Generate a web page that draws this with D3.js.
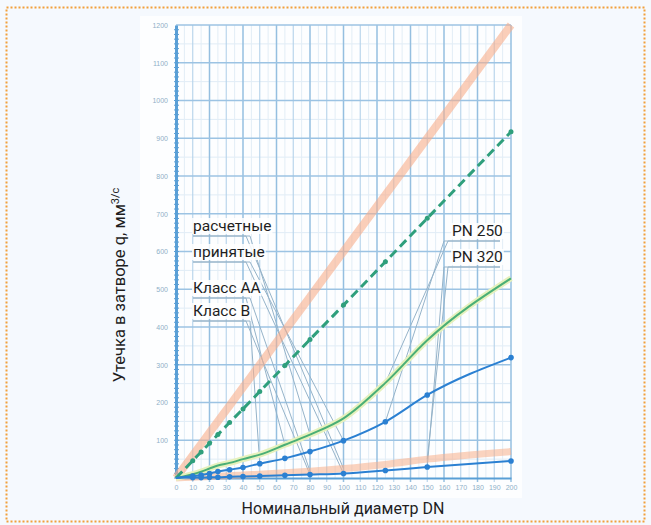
<!DOCTYPE html>
<html>
<head>
<meta charset="utf-8">
<script src="https://cdn.jsdelivr.net/npm/d3@7"></script>
<style>
  body { margin: 0; background: #f5f9fe; }
  svg { display: block; }
</style>
</head>
<body>
<svg id="chart" width="651" height="525"></svg>
<script>
// DN values (x) and leakage values (y)
var dn = [0, 10, 15, 20, 25, 32, 40, 50, 65, 80, 100, 125, 150, 200];
var orangeHigh = [0, 60, 90, 120, 150, 192, 240, 300, 390, 480, 600, 750, 900, 1200];
var greenDashed = [0, 46, 69, 92, 115, 147, 183, 229, 298, 367, 458, 573, 688, 917];
var greenSolid = [0, 10, 17, 25, 33, 40, 50, 62, 88, 115, 158, 252, 365, 529];
var blueCurve = [0, 5, 8, 12, 17, 22, 28, 38, 52, 70, 99, 149, 220, 319];
var orangeLow = [0, 2, 3, 4, 5, 6, 8, 10, 14, 18, 25, 36, 50, 70];
var blueLow = [0, 1, 1, 2, 2, 3, 4, 5, 7, 9, 12, 20, 29, 45];

var yTicks = d3.range(0, 1201, 100);
var xTicks = d3.range(0, 201, 10);

var leftLabels = ["расчетные", "принятые", "Класс АА", "Класс В"];
var rightLabels = ["PN 250", "PN 320"];
// leader line targets: [series, DN]
var leftTargets = [
	[["orangeLow", 100], ["greenSolid", 80]],
	[["blueLow", 100], ["blueCurve", 100]],
	[["greenSolid", 65], ["orangeLow", 80]],
	[["blueLow", 80], ["blueCurve", 50]]
];
var rightTargets = [
	[["greenSolid", 125], ["blueCurve", 125]],
	[["orangeLow", 150], ["blueLow", 150]]
];

var seriesMap = {orangeHigh: orangeHigh, greenDashed: greenDashed, greenSolid: greenSolid,
				 blueCurve: blueCurve, orangeLow: orangeLow, blueLow: blueLow};

var svg = d3.select("#chart");

var x = d3.scaleLinear().domain([0, 200]).range([176, 511]);
var y = d3.scaleLinear().domain([0, 1200]).range([478, 25]);

// dotted frame
svg.append("rect")
	.attr("x", 6.5).attr("y", 7.5)
	.attr("width", 638).attr("height", 514)
	.attr("fill", "none")
	.attr("stroke", "#f2a03a")
	.attr("stroke-width", 2)
	.attr("stroke-dasharray", "2,2");

// plot paper
svg.append("rect")
	.attr("x", 140).attr("y", 16)
	.attr("width", 382).attr("height", 482)
	.attr("fill", "#fdfeff");

var grid = svg.append("g");

// minor horizontal lines
grid.selectAll(".hmin")
	.data(d3.range(50, 1200, 100))
	.enter().append("line")
	.attr("x1", x(0)).attr("x2", x(200))
	.attr("y1", function(d) { return y(d); })
	.attr("y2", function(d) { return y(d); })
	.attr("stroke", "#e0ecf6").attr("stroke-width", 1);

// vertical lines
grid.selectAll(".vmin")
	.data(d3.range(5, 200, 10))
	.enter().append("line")
	.attr("x1", function(d) { return x(d); })
	.attr("x2", function(d) { return x(d); })
	.attr("y1", y(1200)).attr("y2", y(0))
	.attr("stroke", "#e2edf6").attr("stroke-width", 1);

grid.selectAll(".vmaj")
	.data(xTicks.slice(1))
	.enter().append("line")
	.attr("x1", function(d) { return x(d); })
	.attr("x2", function(d) { return x(d); })
	.attr("y1", y(1200)).attr("y2", y(0) + 4)
	.attr("stroke", function(d, i) { return i % 2 ? "#95bfe0" : "#b4d2ea"; })
	.attr("stroke-width", function(d, i) { return i % 2 ? 1.5 : 1.1; });

grid.selectAll(".hmaj")
	.data(yTicks.slice(1))
	.enter().append("line")
	.attr("x1", x(0)).attr("x2", x(200))
	.attr("y1", function(d) { return y(d); })
	.attr("y2", function(d) { return y(d); })
	.attr("stroke", "#9cc3e3").attr("stroke-width", 1.4);

// axes
var yAxis = d3.axisLeft(y).tickValues(yTicks).tickSize(0).tickPadding(8);
var yG = svg.append("g")
	.attr("transform", "translate(" + x(0) + ",0)")
	.call(yAxis);
yG.select(".domain").attr("stroke", "#5a9fd6").attr("stroke-width", 3);
yG.selectAll("text")
	.style("font-family", "Liberation Sans, Arial, sans-serif")
	.style("font-size", "7px")
	.style("fill", "#8fb0c8")
	.text(function(d) { return d === 0 ? "" : d; });

// small ticks on y axis
svg.append("g").selectAll("line")
	.data(d3.range(0, 1200, 12.5))
	.enter().append("line")
	.attr("x1", x(0) - 2).attr("x2", x(0) + 3)
	.attr("y1", function(d) { return y(d); })
	.attr("y2", function(d) { return y(d); })
	.attr("stroke", "#5a9fd6").attr("stroke-width", 1);

var xAxis = d3.axisBottom(x).tickValues(xTicks).tickSize(0).tickPadding(7);
var xG = svg.append("g")
	.attr("transform", "translate(0," + y(0) + ")")
	.call(xAxis);
xG.select(".domain").attr("stroke", "#5a9fd6").attr("stroke-width", 2);
xG.selectAll("text")
	.style("font-family", "Liberation Sans, Arial, sans-serif")
	.style("font-size", "7px")
	.style("fill", "#8fb0c8");

// leader lines + labels
var labelFont = "Roboto, 'Liberation Sans', Arial, sans-serif";
var leftY = [231, 257, 293, 316];
var rightY = [236, 262];

function pt(t) {
	var arr = seriesMap[t[0]];
	var i = dn.indexOf(t[1]);
	return [x(t[1]), y(arr[i])];
}

var leaders = svg.append("g");
leftLabels.forEach(function(lab, k) {
	var by = leftY[k] + 5;
	leftTargets[k].forEach(function(t, j) {
		var p = pt(t);
		leaders.append("polyline")
			.attr("points", [[193, by], [246 + j * 4, by], p].join(" "))
			.attr("fill", "none")
			.attr("stroke", "#95b3c9")
			.attr("stroke-width", 1);
	});
});
rightLabels.forEach(function(lab, k) {
	var by = rightY[k] + 5;
	rightTargets[k].forEach(function(t, j) {
		var p = pt(t);
		leaders.append("polyline")
			.attr("points", [[500, by], [448 - j * 4, by], p].join(" "))
			.attr("fill", "none")
			.attr("stroke", "#95b3c9")
			.attr("stroke-width", 1);
	});
});

// series lines
var line = d3.line()
	.x(function(d, i) { return x(dn[i]); })
	.y(function(d) { return y(d); })
	.curve(d3.curveMonotoneX);

svg.append("path").datum(orangeHigh)
	.attr("d", line).attr("fill", "none")
	.attr("stroke", "#f8ae8a").attr("stroke-opacity", 0.6)
	.attr("stroke-width", 8);

svg.append("path").datum(orangeLow)
	.attr("d", line).attr("fill", "none")
	.attr("stroke", "#f8ae8a").attr("stroke-opacity", 0.55)
	.attr("stroke-width", 7);

svg.append("path").datum(greenSolid)
	.attr("d", line).attr("fill", "none")
	.attr("stroke", "#e6f1bd").attr("stroke-width", 6);
svg.append("path").datum(greenSolid)
	.attr("d", line).attr("fill", "none")
	.attr("stroke", "#4aaf76").attr("stroke-width", 2);

svg.append("path").datum(greenDashed)
	.attr("d", line).attr("fill", "none")
	.attr("stroke", "#2f9f7c").attr("stroke-width", 3)
	.attr("stroke-dasharray", "9,5");
svg.append("g").selectAll("circle")
	.data(greenDashed.slice(1))
	.enter().append("circle")
	.attr("cx", function(d, i) { return x(dn[i + 1]); })
	.attr("cy", function(d) { return y(d); })
	.attr("r", 2.5).attr("fill", "#2f9f7c");

[blueCurve, blueLow].forEach(function(s) {
	svg.append("path").datum(s)
		.attr("d", line).attr("fill", "none")
		.attr("stroke", "#2b80d2").attr("stroke-width", 2);
	svg.append("g").selectAll("circle")
		.data(s.slice(1))
		.enter().append("circle")
		.attr("cx", function(d, i) { return x(dn[i + 1]); })
		.attr("cy", function(d) { return y(d); })
		.attr("r", 2.8).attr("fill", "#2b80d2");
});

// label texts with white background
var labG = svg.append("g");
function addLabel(txt, lx, ly) {
	var t = labG.append("text")
		.attr("x", lx).attr("y", ly)
		.style("font-family", labelFont)
		.style("font-size", "15.5px")
		.style("fill", "#1e1e1e")
		.text(txt);
	var b = t.node().getBBox();
	labG.insert("rect", "text")
		.attr("x", b.x - 1).attr("y", b.y + 1)
		.attr("width", b.width + 2).attr("height", b.height - 2)
		.attr("fill", "#ffffff").attr("fill-opacity", 0.85);
}
leftLabels.forEach(function(lab, k) { addLabel(lab, 193, leftY[k]); });
rightLabels.forEach(function(lab, k) { addLabel(lab, 452, rightY[k]); });

// axis titles
svg.append("text")
	.attr("x", 343).attr("y", 514)
	.attr("text-anchor", "middle")
	.style("font-family", labelFont)
	.style("font-size", "16px")
	.style("fill", "#1e1e1e")
	.text("Номинальный диаметр DN");

var yl = svg.append("text")
	.attr("transform", "translate(125,285)rotate(-90)")
	.attr("text-anchor", "middle")
	.style("font-family", labelFont)
	.style("font-size", "16.5px")
	.style("fill", "#1e1e1e");
yl.append("tspan").text("Утечка в затворе q, мм");
yl.append("tspan").attr("dy", -6).style("font-size", "11px").text("3/с");
</script>
</body>
</html>
